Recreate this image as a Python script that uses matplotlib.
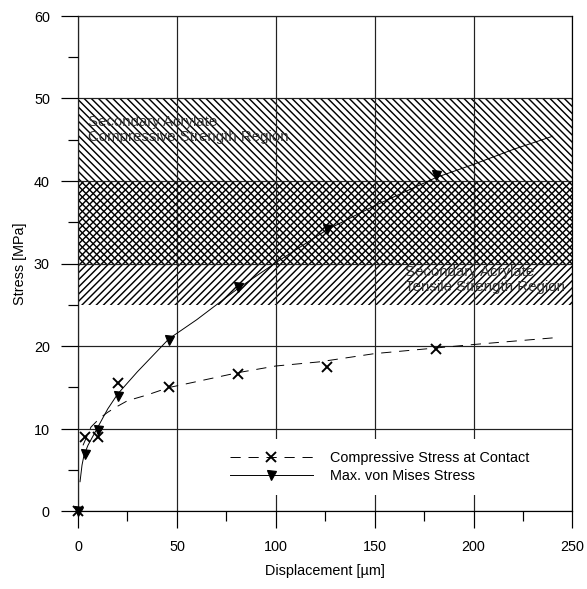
import matplotlib
matplotlib.use('Agg')
import matplotlib.pyplot as plt
from matplotlib.lines import Line2D

# measured points (displacement in um, stress in MPa)
disp_pts = [0, 3.5, 10, 20, 46, 81, 126, 181]
comp_pts = [0, 9.0, 9.0, 15.5, 15.1, 16.6, 17.5, 19.7]
mises_pts = [0, 7.0, 9.8, 14.0, 20.7, 27.2, 34.2, 40.7]

# fitted curves
comp_fit_x = [2.5, 6.5, 11, 15, 19, 25, 35, 46, 52, 81, 100, 122, 150, 200, 240]
comp_fit_y = [8.0, 10.2, 11.3, 12.0, 12.6, 13.4, 14.1, 15.0, 15.3, 16.8, 17.6, 18.1, 19.1, 20.2, 21.0]
mises_fit_x = [1, 2, 3, 5, 10, 15, 20, 30, 46, 60, 81, 100, 126, 150, 181, 200, 220, 240]
mises_fit_y = [3.6, 5.6, 6.8, 8.0, 10.2, 12.4, 14.2, 16.9, 20.9, 23.2, 27.0, 30.1, 34.1, 37.0, 40.4, 42.0, 43.8, 45.4]

# strength bands
comp_band = (30, 50)
tens_band = (25, 40)

plt.rcParams['font.family'] = ['Liberation Sans', 'DejaVu Sans']
plt.rcParams['font.size'] = 12
plt.rcParams['hatch.linewidth'] = 1.2
plt.rcParams['lines.scale_dashes'] = False

dpi = 86.4
fig = plt.figure(figsize=(587.4 / dpi, 589.4 / dpi), dpi=dpi)
ax = fig.add_axes([78 / 587, 1 - 511.5 / 589, 494 / 587, 495.5 / 589])

ax.axhspan(comp_band[0], comp_band[1], facecolor='none', edgecolor='black',
           hatch='\\\\\\\\', linewidth=0, zorder=1)
ax.axhspan(tens_band[0], tens_band[1], facecolor='none', edgecolor='black',
           hatch='////', linewidth=0, zorder=1)

ax.text(5, 48.0, 'Secondary Acrylate\nCompressive Strength Region', color='#333333',
        va='top', ha='left', linespacing=1.12, fontsize=12.5, zorder=3)
ax.text(165.5, 29.9, 'Secondary Acrylate\nTensile Strength Region', color='#333333',
        va='top', ha='left', linespacing=1.12, fontsize=12.5, zorder=3)

dash = (0, (8.5, 6.5))
ax.plot(comp_fit_x, comp_fit_y, color='black', linewidth=0.8, linestyle=dash, zorder=4)
ax.plot(mises_fit_x, mises_fit_y, color='black', linewidth=0.8, zorder=4)
ax.plot(disp_pts, comp_pts, linestyle='none', marker='x', markersize=8,
        markeredgewidth=1.6, color='black', clip_on=False, zorder=5)
ax.plot(disp_pts, mises_pts, linestyle='none', marker='v', markersize=7.5,
        color='black', clip_on=False, zorder=5)

ax.set_xlim(0, 250)
ax.set_ylim(0, 60)
ax.set_xticks([0, 50, 100, 150, 200, 250])
ax.set_xticks([25, 75, 125, 175, 225], minor=True)
ax.set_yticks([0, 10, 20, 30, 40, 50, 60])
ax.set_yticks([5, 15, 25, 35, 45, 55], minor=True)
ax.tick_params(which='major', direction='out', length=14.5, width=1, pad=9)
ax.tick_params(which='minor', direction='out', length=8, width=1)
ax.grid(True, which='major', color='#222222', linewidth=1, zorder=2)
ax.set_axisbelow(False)
for sp in ax.spines.values():
    sp.set_linewidth(1)

ax.set_xlabel('Displacement [µm]', labelpad=8)
ax.set_ylabel('Stress [MPa]', labelpad=6)

handles = [
    Line2D([], [], color='black', linewidth=0.8, linestyle=dash, marker='x',
           markersize=8, markeredgewidth=1.6),
    Line2D([], [], color='black', linewidth=0.8, marker='v', markersize=7.5),
]
leg = ax.legend(handles, ['Compressive Stress at Contact', 'Max. von Mises Stress'],
                loc='center left', bbox_to_anchor=(0.285, 0.09), handlelength=5.7,
                handletextpad=1.2, labelspacing=0.3, borderpad=0.8,
                frameon=True, fancybox=False, framealpha=1, edgecolor='none',
                borderaxespad=0)
leg.set_zorder(6)

fig.savefig('out.png', dpi=dpi)
